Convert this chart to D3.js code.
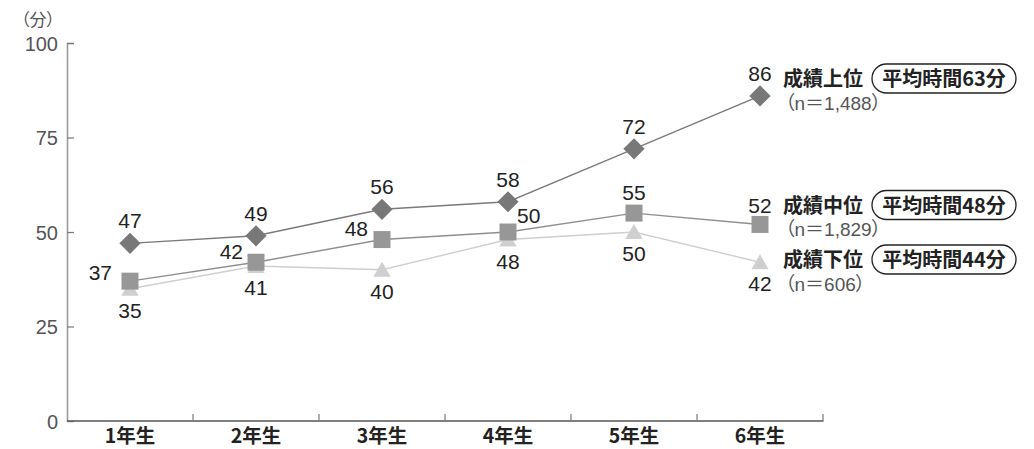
<!DOCTYPE html>
<html>
<head>
<meta charset="utf-8">
<script src="https://cdn.jsdelivr.net/npm/d3@7"></script>
<style>
  html, body { margin: 0; padding: 0; background: #fff; }
  svg { display: block; }
  .count, .unit { font-feature-settings: "palt"; }
</style>
</head>
<body>
<svg id="chart" width="1034" height="449"></svg>
<script>
// Grades and study minutes per performance group
const grades = ["1年生", "2年生", "3年生", "4年生", "5年生", "6年生"];
const topGroup = [47, 49, 56, 58, 72, 86];
const midGroup = [37, 42, 48, 50, 55, 52];
const lowGroup = [35, 41, 40, 48, 50, 42];
const groupNames = ["成績上位", "成績中位", "成績下位"];
const groupAverages = ["平均時間63分", "平均時間48分", "平均時間44分"];
const groupCounts = ["（n＝1,488）", "（n＝1,829）", "（n＝606）"];
const yTicks = [0, 25, 50, 75, 100];

const svg = d3.select("#chart");
const numFont = "'Liberation Sans', Arial, sans-serif";
const jpFont = "'Noto Sans CJK JP', 'Noto Sans', sans-serif";

const x = d3.scaleBand().domain(grades).range([67, 823]);
const y = d3.scaleLinear().domain([0, 100]).range([421, 43]);
const cx = g => x(g) + x.bandwidth() / 2;

// Y axis
const yAxis = svg.append("g").attr("transform", "translate(67,0)")
  .call(d3.axisRight(y).tickValues(yTicks.filter(d => d > 0)).tickSize(7).tickFormat(""));
yAxis.select(".domain").attr("stroke", "#9a9a9a").attr("stroke-width", 1.6);
yAxis.selectAll(".tick line").attr("stroke", "#777").attr("stroke-width", 1.2);

svg.append("g").selectAll("text").data(yTicks).join("text")
  .attr("x", 58).attr("y", d => y(d) + 7.5)
  .attr("text-anchor", "end")
  .attr("font-family", numFont).attr("font-size", 20)
  .attr("fill", "#555")
  .text(d => d);

svg.append("text").attr("class", "unit").attr("x", 21).attr("y", 26)
  .attr("font-family", jpFont).attr("font-size", 17).attr("fill", "#555")
  .text("（分）");

// X axis with boundary ticks between grades
const xAxis = svg.append("g").attr("transform", "translate(0,421)");
xAxis.append("line").attr("x1", 67).attr("x2", 823.5)
  .attr("stroke", "#555").attr("stroke-width", 1.4);
xAxis.selectAll("line.tk").data(grades).join("line").attr("class", "tk")
  .attr("x1", g => x(g) + x.bandwidth()).attr("x2", g => x(g) + x.bandwidth())
  .attr("y1", 0).attr("y2", -7)
  .attr("stroke", "#777").attr("stroke-width", 1.2);
xAxis.selectAll("text").data(grades).join("text")
  .attr("x", g => cx(g)).attr("y", 21.5)
  .attr("text-anchor", "middle")
  .attr("font-family", jpFont).attr("font-size", 19.5).attr("font-weight", 700)
  .attr("fill", "#222")
  .text(g => g);

// Series styling and label placement
const series = [
  { values: lowGroup, line: "#cfcfcf", fill: "#cfcfcf", shape: d3.symbolTriangle, size: 130,
    labels: grades.map(() => ({ dx: 0, dy: 29, anchor: "middle" })) },
  { values: midGroup, line: "#8e8e8e", fill: "#979797", shape: d3.symbolSquare, size: 289,
    labels: [
      { dx: -18, dy: -1, anchor: "end" },
      { dx: -13, dy: -3, anchor: "end" },
      { dx: -14, dy: -4, anchor: "end" },
      { dx: 9, dy: -9, anchor: "start" },
      { dx: 0, dy: -13, anchor: "middle" },
      { dx: 0, dy: -11, anchor: "middle" }
    ] },
  { values: topGroup, line: "#7a7a7a", fill: "#787878", shape: d3.symbolSquare, size: 225, rotate: 45,
    labels: grades.map(() => ({ dx: 0, dy: -15, anchor: "middle" })) }
];

const line = d3.line().x((d, i) => cx(grades[i])).y(d => y(d));

series.forEach(s => {
  svg.append("path").datum(s.values)
    .attr("d", line).attr("fill", "none")
    .attr("stroke", s.line).attr("stroke-width", 1.4);
});

series.forEach(s => {
  const sym = d3.symbol().type(s.shape).size(s.size);
  svg.append("g").selectAll("path").data(s.values).join("path")
    .attr("d", sym)
    .attr("transform", (d, i) => `translate(${cx(grades[i])},${y(d)})` + (s.rotate ? ` rotate(${s.rotate})` : "") + (s.shape === d3.symbolTriangle ? " translate(0,2)" : ""))
    .attr("fill", s.fill);
});

series.forEach(s => {
  svg.append("g").selectAll("text").data(s.values).join("text")
    .attr("x", (d, i) => cx(grades[i]) + s.labels[i].dx)
    .attr("y", (d, i) => y(d) + s.labels[i].dy)
    .attr("text-anchor", (d, i) => s.labels[i].anchor)
    .attr("font-family", numFont).attr("font-size", 21)
    .attr("fill", "#222")
    .text(d => d);
});

// Group legends at the right of the last point
const legendY = [78.5, 205, 259.5];
groupNames.forEach((name, i) => {
  const g = svg.append("g").attr("transform", `translate(783,${legendY[i]})`);
  g.append("text").attr("x", 0).attr("y", 7.5)
    .attr("font-family", jpFont).attr("font-size", 20).attr("font-weight", 700)
    .attr("fill", "#222").text(name);
  g.append("rect").attr("x", 89).attr("y", -14.5).attr("width", 144).attr("height", 29)
    .attr("rx", 14.5).attr("ry", 14.5)
    .attr("fill", "#fff").attr("stroke", "#222").attr("stroke-width", 1.3);
  g.append("text").attr("x", 161).attr("y", 7.5)
    .attr("text-anchor", "middle")
    .attr("font-family", jpFont).attr("font-size", 20).attr("font-weight", 700)
    .attr("fill", "#222").text(groupAverages[i]);
  g.append("text").attr("class", "count").attr("x", 2).attr("y", 31)
    .attr("font-family", "'Liberation Sans', 'Noto Sans CJK JP', sans-serif").attr("font-size", 19)
    .attr("fill", "#555").text(groupCounts[i]);
});
</script>
</body>
</html>
